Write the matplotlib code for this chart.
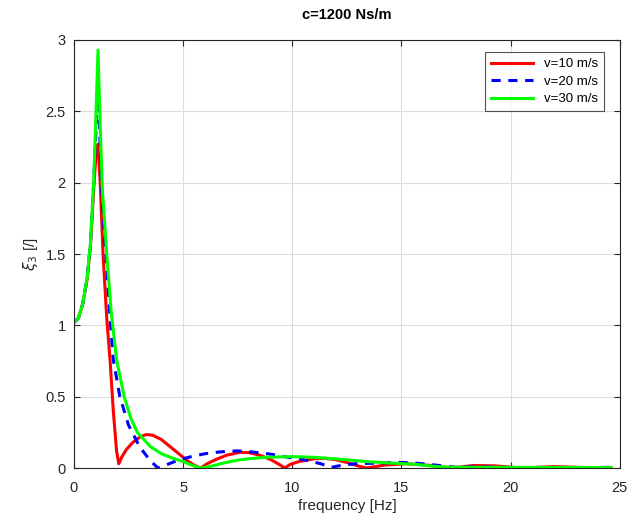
import matplotlib
matplotlib.use("Agg")
import matplotlib.pyplot as plt

plt.rcParams['font.family'] = ['Liberation Sans', 'DejaVu Sans']
plt.rcParams['mathtext.fontset'] = 'dejavusans'

title = "c=1200 Ns/m"
xlabel = "frequency [Hz]"
ylabel = r"$\xi_3$ [/]"
labels = ["v=10 m/s", "v=20 m/s", "v=30 m/s"]

f_v10 = [0, 0.2, 0.4, 0.6, 0.75, 0.9, 1.0, 1.1, 1.2, 1.33, 1.5, 1.65, 1.8, 1.95, 2.05,
         2.2, 2.4, 2.7, 3.0, 3.3, 3.6, 4.0, 4.4, 4.8, 5.2, 5.5, 5.8,
         6.1, 6.5, 7.0, 7.6, 8.0, 8.5, 9.0, 9.4, 9.65,
         9.9, 10.3, 11.0, 11.5, 12.0, 12.6, 13.0, 13.4,
         14.2, 15.2, 16.2, 17.3, 18.3, 19.3, 20.5, 22.0, 23.0, 24.6]
y_v10 = [1.02, 1.05, 1.15, 1.32, 1.55, 1.95, 2.18, 2.27, 2.0, 1.5, 1.05, 0.76, 0.4, 0.12, 0.03,
         0.08, 0.13, 0.18, 0.215, 0.235, 0.23, 0.2, 0.15, 0.1, 0.05, 0.02, 0.0,
         0.03, 0.06, 0.09, 0.11, 0.108, 0.09, 0.06, 0.025, 0.0,
         0.025, 0.045, 0.065, 0.068, 0.058, 0.035, 0.015, 0.0,
         0.02, 0.03, 0.02, 0.0, 0.018, 0.015, 0.0, 0.01, 0.005, 0.0]

f_v20 = [0, 0.2, 0.4, 0.6, 0.75, 0.9, 1.0, 1.1, 1.2, 1.3, 1.5, 1.65, 1.8, 2.1, 2.5, 3.0,
         3.5, 3.85, 4.2, 4.6, 5.0, 5.5, 6.0, 6.5, 7.0, 7.5, 8.0, 8.6, 9.1, 9.6, 10.1, 10.5,
         10.9, 11.3, 11.8, 12.3, 12.9, 14.0, 14.8,
         15.6, 16.6, 17.5, 18.5, 19.5, 20.5, 22.0, 24.6]
y_v20 = [1.02, 1.05, 1.15, 1.33, 1.57, 2.0, 2.35, 2.72, 2.25, 1.85, 1.4, 1.05, 0.76, 0.5, 0.3, 0.15,
         0.05, 0.0, 0.02, 0.045, 0.065, 0.085, 0.1, 0.11, 0.117, 0.12, 0.115, 0.105, 0.095, 0.08, 0.07, 0.06,
         0.045, 0.03, 0.005, 0.02, 0.03, 0.035, 0.04,
         0.035, 0.02, 0.005, 0.01, 0.005, 0.003, 0.0, 0.005]

f_v30 = [0, 0.2, 0.4, 0.6, 0.75, 0.9, 1.0, 1.1, 1.2, 1.3, 1.5, 1.7, 1.95, 2.3, 2.6, 2.9, 3.5,
         4.0, 4.5, 5.0, 5.4, 5.8, 6.2, 6.6, 7.0, 7.5, 8.0, 8.8, 10.0, 11.0, 11.9, 12.7, 13.4,
         14.5, 15.7, 16.5, 17.0, 18.0, 20.0, 24.6]
y_v30 = [1.02, 1.05, 1.15, 1.33, 1.57, 2.0, 2.45, 2.93, 2.4, 1.95, 1.5, 1.1, 0.76, 0.5, 0.35, 0.25, 0.15,
         0.1, 0.07, 0.045, 0.02, 0.0, 0.01, 0.025, 0.04, 0.055, 0.065, 0.075, 0.08, 0.075, 0.065, 0.055, 0.045,
         0.035, 0.025, 0.012, 0.006, 0.005, 0.005, 0.003]

fig = plt.figure(figsize=(6.39, 5.16), dpi=100)
ax = fig.add_axes([0.1158, 0.093, 0.8542, 0.8295])

ax.plot(f_v10, y_v10, color='#ff0000', lw=2.2, label=labels[0])
ax.plot(f_v20, y_v20, color='#0000ff', lw=2.2, ls=(0, (3, 2.5)), label=labels[1])
ax.plot(f_v30, y_v30, color='#00ff00', lw=2.2, label=labels[2])

ax.set_xlim(0, 25)
ax.set_ylim(0, 3)
ax.set_xticks([0, 5, 10, 15, 20, 25])
ax.set_yticks([0, 0.5, 1, 1.5, 2, 2.5, 3])
ax.set_yticklabels(['0', '0.5', '1', '1.5', '2', '2.5', '3'])
ax.grid(True, color='#dcdcdc', lw=0.8)
ax.set_axisbelow(True)
ax.tick_params(direction='in', top=True, right=True, labelsize=10.5, colors='#262626', length=4)
ax.tick_params(axis='x', pad=9)
ax.tick_params(axis='y', pad=6)
for s in ax.spines.values():
    s.set_color('#262626')
    s.set_linewidth(0.8)

ax.set_title(title, fontsize=10.5, fontweight='bold', pad=15)
ax.set_xlabel(xlabel, fontsize=11, color='#262626', labelpad=3)
ax.set_ylabel(ylabel, fontsize=11, color='#262626', labelpad=4)

leg = ax.legend(loc='upper right', bbox_to_anchor=(0.9707, 0.972), borderaxespad=0,
                fontsize=9.5, frameon=True, fancybox=False,
                edgecolor='#262626', handlelength=3.2,
                borderpad=0.45, labelspacing=0.4)
leg.get_frame().set_linewidth(0.8)

fig.savefig('out.png', dpi=100)
